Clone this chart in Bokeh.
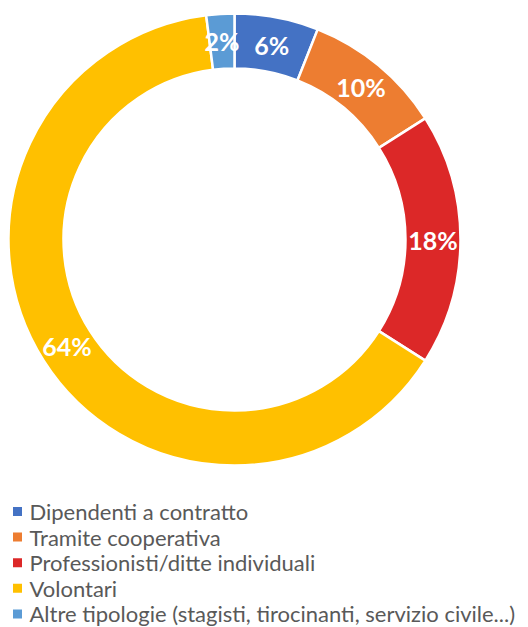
import math
from bokeh.plotting import figure
from bokeh.models import Range1d, ColumnDataSource
from bokeh.core.properties import value
from bokeh.embed import file_html
from bokeh.resources import INLINE

categories = [
    "Dipendenti a contratto",
    "Tramite cooperativa",
    "Professionisti/ditte individuali",
    "Volontari",
    "Altre tipologie (stagisti, tirocinanti, servizio civile...)",
]
values = [6, 10, 18, 64, 2]
colors = ["#4472C4", "#ED7D31", "#DC2828", "#FFC000", "#5B9BD5"]

W, H = 528, 627
cx, cy = 234, -239
r_in, r_out = 171, 226

p = figure(width=W, height=H, output_backend="svg", toolbar_location=None,
           x_range=Range1d(0, W), y_range=Range1d(-H, 0),
           min_border=0, outline_line_color=None)
p.axis.visible = False
p.grid.visible = False
p.background_fill_color = "white"
p.border_fill_color = "white"

total = sum(values)
starts, ends, lx, ly, labels = [], [], [], [], []
cum = 0
for v in values:
    a0 = math.pi / 2 - 2 * math.pi * (cum + v) / total
    a1 = math.pi / 2 - 2 * math.pi * cum / total
    starts.append(a0)
    ends.append(a1)
    mid = (a0 + a1) / 2
    rm = (r_in + r_out) / 2
    lx.append(cx + rm * math.cos(mid))
    ly.append(cy + rm * math.sin(mid))
    labels.append(f"{round(100 * v / total)}%")
    cum += v

src = ColumnDataSource(dict(start=starts, end=ends, color=colors, lx=lx, ly=ly, lab=labels,
                            x=[cx] * len(values), y=[cy] * len(values)))
p.annular_wedge(x="x", y="y", inner_radius=r_in, outer_radius=r_out,
                start_angle="start", end_angle="end", fill_color="color",
                line_color="white", line_width=2.5, source=src)
p.text(x="lx", y="ly", text="lab", text_color="white", text_font=value("Lato"),
       text_font_style="bold", text_font_size="25px", text_align="center",
       text_baseline="middle", source=src)

# legend
leg_x0, leg_y0, leg_dy = 17, -511, 25.6
lgx = [leg_x0] * len(categories)
lgy = [leg_y0 - i * leg_dy for i in range(len(categories))]
lsrc = ColumnDataSource(dict(x=lgx, y=lgy, tx=[leg_x0 + 12] * len(categories),
                             cat=categories, color=colors))
p.scatter(x="x", y="y", marker="square", size=9, fill_color="color",
          line_color=None, source=lsrc)
p.text(x="tx", y="y", text="cat", text_color="#595959", text_font=value("Lato"),
       text_font_size="22px", text_baseline="middle", source=lsrc)

open("out.html", "w").write(file_html(p, INLINE))
